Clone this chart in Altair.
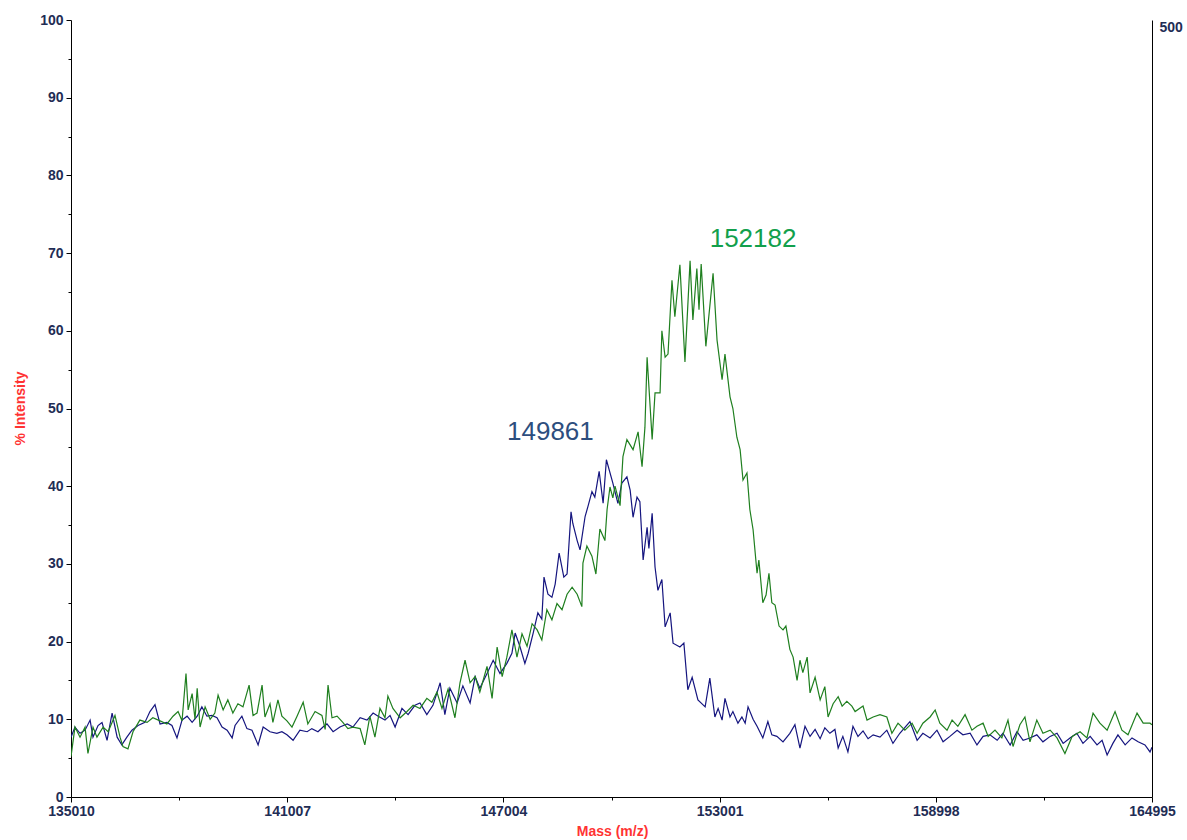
import altair as alt
import pandas as pd

# Deconvoluted mass spectra: two overlaid traces (% intensity vs mass)
BLUE_MASS = [135010, 135120, 135260, 135400, 135540, 135620, 135760, 135870, 136010, 136150,
             136290, 136420, 136560, 136700, 136870, 137060, 137200, 137340, 137480, 137670,
             137810, 137950, 138090, 138230, 138370, 138510, 138640, 138780, 138920, 139060,
             139200, 139340, 139480, 139560, 139750, 139890, 140030, 140200, 140340, 140530,
             140720, 140860, 141000, 141170, 141360, 141560, 141690, 141860, 142000, 142110,
             142280, 142470, 142670, 142830, 143030, 143220, 143390, 143530, 143720, 143860,
             144000, 144190, 144360, 144550, 144690, 144880, 145050, 145250, 145380, 145520,
             145720, 145880, 146080, 146220, 146350, 146550, 146720, 146910, 147100, 147240,
             147330, 147460, 147600, 147690, 147830, 147960, 148070, 148130, 148240, 148350,
             148440, 148550, 148680, 148770, 148880, 148930, 149050, 149130, 149270, 149350,
             149460, 149540, 149660, 149770, 149861, 150040, 150180, 150290, 150430, 150520,
             150600, 150710, 150790, 150880, 150990, 151040, 151130, 151210, 151290, 151400,
             151490, 151630, 151710, 151900, 152010, 152120, 152240, 152400, 152600, 152730,
             152870, 152960, 153070, 153150, 153290, 153370, 153510, 153620, 153710, 153790,
             153930, 154040, 154200, 154340, 154450, 154590, 154760, 154950, 155090, 155230,
             155370, 155510, 155650, 155790, 155920, 156060, 156200, 156290, 156420, 156560,
             156700, 156840, 156980, 157120, 157260, 157450, 157640, 157810, 158000, 158280,
             158480, 158640, 158840, 159030, 159200, 159390, 159590, 159750, 159950, 160140,
             160310, 160500, 160700, 160860, 161060, 161250, 161420, 161610, 161800, 161970,
             162170, 162360, 162530, 162720, 162910, 163080, 163280, 163470, 163610, 163750,
             163910, 164050, 164250, 164440, 164610, 164800, 164940, 164995]
BLUE_PCT = [7.7, 9.0, 8.2, 8.6, 9.9, 7.7, 9.2, 9.6, 7.3, 10.8,
            7.7, 6.7, 7.7, 8.6, 9.2, 9.6, 11.0, 11.9, 9.4, 9.6,
            9.2, 7.6, 9.9, 10.4, 9.6, 10.4, 11.6, 10.4, 10.5, 10.2,
            9.0, 8.6, 7.6, 9.2, 10.4, 8.8, 8.6, 6.7, 9.0, 8.4,
            8.2, 8.4, 8.0, 7.3, 8.6, 8.4, 8.8, 8.4, 9.0, 9.4,
            8.4, 9.0, 9.4, 9.0, 10.2, 9.9, 10.8, 10.4, 9.9, 10.5,
            9.0, 11.4, 10.6, 11.8, 12.1, 10.6, 11.8, 14.7, 10.6, 14.0,
            12.1, 14.3, 12.1, 15.5, 14.0, 15.9, 17.6, 15.9, 17.2, 18.5,
            21.1, 19.4, 17.2, 18.5, 21.1, 23.7, 22.9, 28.3, 26.1, 25.7,
            27.4, 31.4, 28.3, 28.7, 36.7, 35.2, 33.0, 31.8, 36.1, 37.4,
            39.3, 38.6, 41.9, 37.8, 43.4, 40.4, 37.8, 40.4, 41.2, 39.5,
            36.0, 38.6, 38.0, 30.5, 34.7, 32.0, 36.5, 29.6, 26.6, 28.0,
            21.9, 23.7, 19.8, 19.3, 19.8, 13.8, 15.4, 12.5, 11.6, 15.3,
            10.3, 11.4, 9.9, 12.7, 10.3, 11.0, 9.5, 10.3, 9.5, 11.6,
            10.0, 9.1, 7.6, 9.7, 8.0, 7.8, 7.1, 8.2, 9.3, 6.3,
            9.1, 7.8, 8.7, 7.5, 8.9, 8.2, 8.7, 6.3, 7.8, 5.8,
            9.1, 7.8, 8.5, 7.5, 8.0, 7.7, 8.6, 6.9, 8.2, 9.7,
            7.3, 8.2, 7.6, 8.6, 7.1, 7.8, 8.6, 8.0, 8.2, 6.7,
            7.8, 8.0, 7.3, 8.2, 6.7, 8.4, 7.3, 7.6, 8.0, 7.1,
            7.8, 8.2, 6.9, 7.6, 8.2, 6.9, 7.8, 6.7, 7.3, 5.4,
            6.9, 8.0, 6.7, 7.6, 7.1, 6.7, 5.8, 6.4]

GREEN_MASS = [135010, 135120, 135260, 135400, 135480, 135620, 135730, 135900, 136040, 136230,
              136370, 136450, 136590, 136730, 136920, 137120, 137280, 137480, 137670, 137840,
              137980, 138090, 138200, 138260, 138370, 138450, 138510, 138590, 138730, 138870,
              139000, 139090, 139230, 139360, 139500, 139640, 139780, 139950, 140060, 140170,
              140310, 140390, 140530, 140610, 140750, 140860, 141000, 141140, 141280, 141450,
              141580, 141780, 141970, 142060, 142140, 142250, 142390, 142550, 142690, 142830,
              143030, 143160, 143300, 143440, 143580, 143720, 143800, 143940, 144140, 144330,
              144500, 144690, 144880, 145020, 145160, 145300, 145470, 145660, 145800, 145940,
              146080, 146220, 146350, 146550, 146690, 146830, 146970, 147100, 147240, 147380,
              147520, 147660, 147800, 147940, 148070, 148210, 148350, 148490, 148630, 148770,
              148910, 149050, 149180, 149210, 149320, 149460, 149570, 149680, 149820, 149880,
              149960, 150040, 150100, 150240, 150320, 150430, 150600, 150740, 150850, 150930,
              150990, 151130, 151210, 151350, 151400, 151490, 151570, 151680, 151760, 151900,
              152040, 152182, 152260, 152370, 152430, 152490, 152620, 152820, 152930, 153070,
              153150, 153290, 153370, 153480, 153570, 153650, 153760, 153840, 153930, 154040,
              154090, 154200, 154290, 154370, 154450, 154540, 154650, 154760, 154840, 154950,
              155040, 155150, 155230, 155310, 155430, 155510, 155650, 155790, 155920, 156010,
              156150, 156290, 156400, 156530, 156670, 156760, 156980, 157090, 157260, 157450,
              157640, 157780, 157950, 158140, 158340, 158480, 158640, 158840, 158980, 159110,
              159310, 159450, 159610, 159810, 160000, 160140, 160310, 160450, 160640, 160830,
              161000, 161140, 161330, 161470, 161610, 161800, 161970, 162170, 162360, 162580,
              162780, 163000, 163190, 163360, 163550, 163750, 163970, 164160, 164330, 164580,
              164750, 164940, 164995]
GREEN_PCT = [5.2, 9.0, 7.7, 9.0, 5.6, 9.0, 7.7, 9.0, 8.4, 10.5,
             7.7, 6.5, 6.2, 8.4, 9.9, 9.6, 10.2, 9.8, 9.4, 10.4,
             11.0, 9.8, 15.9, 11.2, 13.3, 10.0, 14.0, 9.0, 11.6, 10.0,
             10.8, 13.1, 11.2, 12.5, 10.8, 12.0, 11.6, 14.4, 10.5, 10.8,
             14.4, 10.3, 12.0, 9.6, 12.5, 10.4, 9.8, 9.0, 10.4, 12.2,
             9.4, 11.0, 10.5, 8.7, 14.4, 10.2, 10.4, 9.6, 8.8, 9.0,
             8.8, 6.7, 10.4, 7.7, 11.4, 10.2, 13.0, 11.4, 10.2, 11.0,
             11.8, 11.4, 12.7, 12.2, 13.5, 11.4, 13.9, 10.2, 14.7, 17.6,
             14.7, 15.5, 13.5, 16.8, 12.7, 19.3, 15.5, 18.0, 21.5, 18.0,
             21.0, 19.4, 22.3, 21.5, 20.2, 24.1, 22.8, 24.9, 24.1, 26.1,
             27.0, 26.1, 24.5, 30.1, 32.3, 31.0, 28.7, 34.5, 33.0, 37.0,
             39.9, 38.5, 40.0, 37.5, 43.8, 46.0, 44.7, 47.0, 42.5, 47.6,
             56.6, 46.0, 52.0, 52.0, 60.0, 56.6, 57.0, 66.5, 61.8, 68.5,
             56.0, 69.0, 61.4, 68.0, 62.7, 68.6, 58.0, 67.4, 58.8, 53.7,
             57.0, 51.5, 50.0, 46.3, 44.7, 40.8, 41.7, 37.0, 34.4, 28.8,
             30.5, 25.0, 26.0, 28.8, 25.0, 24.7, 22.0, 21.5, 22.0, 19.0,
             18.0, 15.0, 17.6, 16.0, 18.0, 13.4, 15.4, 12.5, 14.2, 10.3,
             12.0, 12.9, 11.7, 12.3, 11.7, 11.0, 11.7, 9.9, 10.3, 10.6,
             10.3, 8.2, 9.5, 8.6, 9.5, 8.2, 9.5, 10.3, 11.2, 9.5,
             8.6, 9.9, 9.1, 10.6, 8.6, 9.1, 9.5, 7.8, 8.6, 7.6,
             9.9, 6.5, 9.3, 10.3, 7.1, 9.9, 8.2, 8.6, 7.6, 5.6,
             7.8, 8.4, 7.6, 10.8, 9.5, 8.6, 11.0, 8.6, 8.0, 10.8,
             9.5, 9.5, 9.3]

# Peak annotations (mass of the apex of each trace)
PEAK_MASS = [149861, 152182]
PEAK_PCT = [43.4, 69.0]

X_MAJOR = [135010, 141007, 147004, 153001, 158998, 164995]
X_MINOR = [138008.5, 144005.5, 150002.5, 155999.5, 161996.5]
Y_TICKS = list(range(0, 101, 5))

FONT = "Liberation Sans"
LABEL_COLOR = "#1f2d55"
TITLE_RED = "#ff3333"
BLUE = "#15157f"
GREEN = "#1f7f1f"

blue_df = pd.DataFrame({"mass": BLUE_MASS, "pct": BLUE_PCT})
green_df = pd.DataFrame({"mass": GREEN_MASS, "pct": GREEN_PCT})
peak_df = pd.DataFrame({"mass": PEAK_MASS, "pct": PEAK_PCT,
                        "label": [str(m) for m in PEAK_MASS]})

x_enc = alt.X(
    "mass:Q",
    scale=alt.Scale(domain=[X_MAJOR[0], X_MAJOR[-1]], nice=False, zero=False),
    axis=alt.Axis(
        values=sorted(X_MAJOR + X_MINOR),
        format="d",
        labelExpr="datum.value % 1 === 0 ? datum.label : ''",
        tickSize={"condition": {"test": "datum.value % 1 === 0", "value": 5}, "value": 3},
        labelFlush=False,
        labelOverlap=False,
        grid=False,
        domainColor="#000000",
        tickColor="#000000",
        labelFont=FONT,
        labelFontSize=14,
        labelFontWeight="bold",
        labelColor=LABEL_COLOR,
        labelPadding=2,
        title="Mass (m/z)",
        titleFont=FONT,
        titleFontSize=14,
        titleFontWeight="bold",
        titleColor=TITLE_RED,
        titleX=541,
        titleY=34,
        titleAlign="center",
        titleBaseline="middle",
    ),
)

y_enc = alt.Y(
    "pct:Q",
    scale=alt.Scale(domain=[0, 100], nice=False),
    axis=alt.Axis(
        values=Y_TICKS,
        format="d",
        labelExpr="datum.value % 10 === 0 ? datum.label : ''",
        tickSize={"condition": {"test": "datum.value % 10 === 0", "value": 5}, "value": 3},
        labelOverlap=False,
        grid=False,
        domainColor="#000000",
        tickColor="#000000",
        labelFont=FONT,
        labelFontSize=14,
        labelFontWeight="bold",
        labelColor=LABEL_COLOR,
        labelPadding=3,
        title="% Intensity",
        titleFont=FONT,
        titleFontSize=14,
        titleFontWeight="bold",
        titleColor=TITLE_RED,
        titleAngle=270,
        titleX=-51,
        titleY=388,
        titleAlign="center",
        titleBaseline="middle",
    ),
)

blue_line = alt.Chart(blue_df).mark_line(color=BLUE, strokeWidth=1.2, clip=True).encode(
    x=x_enc, y=y_enc
)
green_line = alt.Chart(green_df).mark_line(color=GREEN, strokeWidth=1.2, clip=True).encode(
    x=x_enc, y=y_enc
)

blue_label = alt.Chart(peak_df.iloc[[0]]).mark_text(
    font=FONT, fontSize=26, color="#2d4e7e", align="center", baseline="alphabetic",
    dx=-56, dy=-20,
).encode(x=x_enc, y=y_enc, text="label:N")

green_label = alt.Chart(peak_df.iloc[[1]]).mark_text(
    font=FONT, fontSize=26, color="#12a04c", align="center", baseline="alphabetic",
    dx=63, dy=-14,
).encode(x=x_enc, y=y_enc, text="label:N")

left = alt.layer(blue_line, green_line, blue_label, green_label)

# Secondary (absolute) intensity axis on the right
right = alt.Chart(blue_df).mark_line(opacity=0).encode(
    x=x_enc,
    y=alt.Y(
        "pct:Q",
        scale=alt.Scale(domain=[0, 500], nice=False),
        axis=alt.Axis(
            orient="right",
            values=[500],
            tickSize=0,
            grid=False,
            title=None,
            domainColor="#000000",
            labelFont=FONT,
            labelFontSize=14,
            labelFontWeight="bold",
            labelColor=LABEL_COLOR,
            labelBaseline="top",
            labelPadding=7,
        ),
    ),
)

chart = (
    alt.layer(left, right)
    .resolve_scale(y="independent")
    .properties(
        width=1081,
        height=777,
        padding={"left": 71, "top": 20, "right": 35, "bottom": 43},
        autosize=alt.AutoSizeParams(type="none"),
    )
    .configure_view(stroke="transparent")
)

chart.save("out.html", embed_options={"renderer": "svg", "actions": False})
